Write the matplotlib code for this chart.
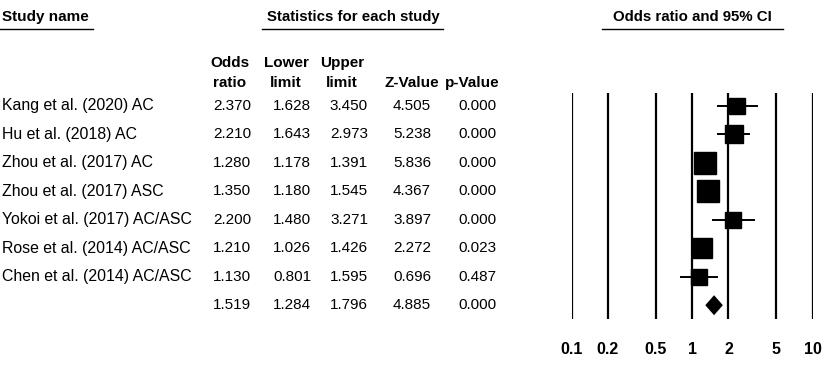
import matplotlib
matplotlib.use("Agg")
import matplotlib.pyplot as plt
import numpy as np

plt.rcParams['font.family'] = ['Liberation Sans', 'DejaVu Sans']

# data
studies = ["Kang et al. (2020) AC", "Hu et al. (2018) AC", "Zhou et al. (2017) AC",
           "Zhou et al. (2017) ASC", "Yokoi et al. (2017) AC/ASC", "Rose et al. (2014) AC/ASC",
           "Chen et al. (2014) AC/ASC"]
odds = [2.370, 2.210, 1.280, 1.350, 2.200, 1.210, 1.130]
lower = [1.628, 1.643, 1.178, 1.180, 1.480, 1.026, 0.801]
upper = [3.450, 2.973, 1.391, 1.545, 3.271, 1.426, 1.595]
zvals = [4.505, 5.238, 5.836, 4.367, 3.897, 2.272, 0.696]
pvals = [0.000, 0.000, 0.000, 0.000, 0.000, 0.023, 0.487]
weights = [11.0, 12.8, 20.3, 18.6, 9.2, 16.9, 11.0]  # relative
summary = dict(odds=1.519, lower=1.284, upper=1.796, z=4.885, p=0.000)
ticks = [0.1, 0.2, 0.5, 1, 2, 5, 10]
tick_labels = ["0.1", "0.2", "0.5", "1", "2", "5", "10"]

W, H = 829, 367
fig = plt.figure(figsize=(W / 100, H / 100), dpi=100)

row_px = 28.5
row0_px = 105.7
ytop = -row0_px / row_px
ybot = (H - row0_px) / row_px

# text layer in pixel x, row y
tax = fig.add_axes([0, 0, 1, 1])
tax.set_xlim(0, W)
tax.set_ylim(ybot, ytop)
tax.axis("off")

fs = 11
def px2row(p):
    return (p - row0_px) / row_px

# group headers with underlines
tax.text(2, px2row(17), "Study name", fontsize=fs, fontweight="bold", va="center", ha="left")
tax.plot([0, 93], [px2row(29)] * 2, color="black", lw=1)
tax.text(353, px2row(17), "Statistics for each study", fontsize=10.8, fontweight="bold", va="center", ha="center")
tax.plot([262, 443], [px2row(29)] * 2, color="black", lw=1)
tax.text(692, px2row(17), "Odds ratio and 95% CI", fontsize=10.8, fontweight="bold", va="center", ha="center")
tax.plot([602, 783], [px2row(29)] * 2, color="black", lw=1)

col_x = [232, 292, 349, 412, 477]
hdr1 = ["Odds", "Lower", "Upper", "", ""]
hdr2 = ["ratio", "limit", "limit", "Z-Value", "p-Value"]
hdr_x = [230, 286, 342, 412, 472]
for x, a, b in zip(hdr_x, hdr1, hdr2):
    tax.text(x, px2row(63), a, fontsize=fs, fontweight="bold", va="center", ha="center")
    tax.text(x, px2row(83), b, fontsize=fs, fontweight="bold", va="center", ha="center")

for i, name in enumerate(studies):
    tax.text(2, i, name, fontsize=11.4, va="center", ha="left")
    vals = [odds[i], lower[i], upper[i], zvals[i], pvals[i]]
    for x, v in zip(col_x, vals):
        tax.text(x, i, f"{v:.3f}", fontsize=fs, va="center", ha="center")
srow = len(studies)
for x, v in zip(col_x, [summary["odds"], summary["lower"], summary["upper"], summary["z"], summary["p"]]):
    tax.text(x, srow, f"{v:.3f}", fontsize=fs, va="center", ha="center")

# forest plot
left_px, right_px = 571.7, 812.7
ax = fig.add_axes([left_px / W, 0, (right_px - left_px) / W, 1])
ax.set_xscale("log")
ax.set_xlim(0.1, 10)
ax.set_ylim(ybot, ytop)
ax.axis("off")
ax.patch.set_alpha(0)

ax.vlines(ticks, px2row(92.7), px2row(319.3), color="black", lw=1.6)
for t, lab in zip(ticks, tick_labels):
    ax.text(t, px2row(349), lab, fontsize=11.5, fontweight="bold", ha="center", va="center")

for i in range(len(studies)):
    ax.plot([lower[i], upper[i]], [i, i], color="black", lw=1.4)
    side_px = 5.03 * np.sqrt(weights[i])
    ax.plot(odds[i], i, marker="s", color="black", markersize=side_px * 0.72, linestyle="none")

h = 10 / row_px
ax.fill([summary["lower"], summary["odds"], summary["upper"], summary["odds"]],
        [srow, srow - h, srow, srow + h], color="black", lw=0)

fig.savefig("out.png", dpi=100)
